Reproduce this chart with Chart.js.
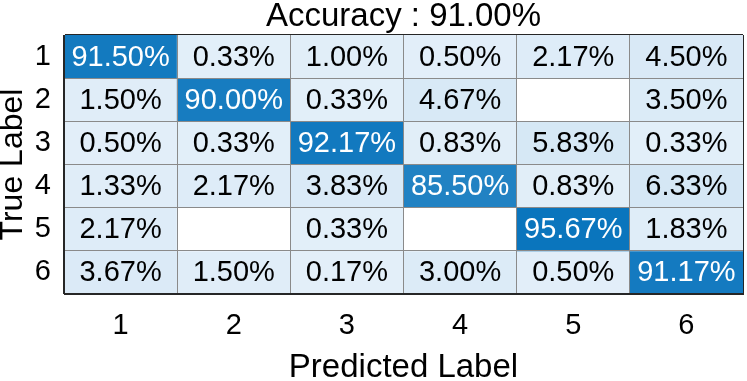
<!DOCTYPE html>
<html>
<head>
<meta charset="utf-8">
<script src="https://cdn.jsdelivr.net/npm/chart.js@4"></script>
<style>
  html, body { margin: 0; padding: 0; background: #fff; }
  #wrap { width: 747px; height: 381px; }
</style>
</head>
<body>
<div id="wrap"><canvas id="cm"></canvas></div>
<script>
// ----- Données -----
const predLabels = ['1', '2', '3', '4', '5', '6'];
const trueLabels = ['1', '2', '3', '4', '5', '6'];
const row1 = [91.50, 0.33, 1.00, 0.50, 2.17, 4.50];
const row2 = [1.50, 90.00, 0.33, 4.67, 0, 3.50];
const row3 = [0.50, 0.33, 92.17, 0.83, 5.83, 0.33];
const row4 = [1.33, 2.17, 3.83, 85.50, 0.83, 6.33];
const row5 = [2.17, 0, 0.33, 0, 95.67, 1.83];
const row6 = [3.67, 1.50, 0.17, 3.00, 0.50, 91.17];
const rows = [row1, row2, row3, row4, row5, row6];
const accuracy = '91.00%';

// couleur : blanc pour 0, sinon bleu clair -> bleu foncé
const lo = [227, 239, 249], hi = [0, 111, 186];
const cellColor = v => {
  if (!v) return '#ffffff';
  const t = v / 100;
  const c = lo.map((a, k) => Math.round(a + (hi[k] - a) * t));
  return `rgb(${c[0]},${c[1]},${c[2]})`;
};

Chart.defaults.font.family = "'Liberation Sans', Arial, sans-serif";
Chart.defaults.color = '#000';

const datasets = rows.map((r, i) => ({
  label: trueLabels[i],
  data: r.map(() => [i + 0.5, i + 1.5]),
  backgroundColor: r.map(cellColor),
  borderWidth: 0,
  grouped: false,
  barPercentage: 1,
  categoryPercentage: 1
}));

// texte des cellules
const cellText = {
  id: 'cellText',
  afterDatasetsDraw(chart) {
    const { ctx, scales: { x, y } } = chart;
    ctx.save();
    ctx.font = "29px 'Liberation Sans', Arial, sans-serif";
    ctx.textAlign = 'center';
    ctx.textBaseline = 'middle';
    rows.forEach((r, i) => {
      r.forEach((v, j) => {
        if (!v) return;
        ctx.fillStyle = v > 50 ? '#fff' : '#000';
        ctx.fillText(v.toFixed(2) + '%', x.getPixelForValue(j), y.getPixelForValue(i + 1) + 1);
      });
    });
    ctx.restore();
  }
};

const dark = '#262626', gray = '#8a8a8a';
const lineColor = c => (c.index === undefined || c.index === 0) ? dark : gray;

new Chart(document.getElementById('cm'), {
  type: 'bar',
  data: { labels: predLabels, datasets },
  options: {
    responsive: true,
    maintainAspectRatio: false,
    animation: false,
    layout: { padding: { right: 4, top: 0, left: 0, bottom: 0 } },
    plugins: {
      legend: { display: false },
      tooltip: { enabled: false },
      title: {
        display: true,
        fullSize: false,
        text: 'Accuracy : ' + accuracy,
        color: '#000',
        font: { size: 33, weight: 'normal', lineHeight: 1 },
        padding: { top: 0, bottom: 2 }
      }
    },
    scales: {
      x: {
        grid: { offset: true, color: lineColor, drawTicks: false, z: 1 },
        border: { color: dark, z: 2 },
        ticks: { font: { size: 29 }, padding: 15 },
        title: { display: true, text: 'Predicted Label', font: { size: 33, lineHeight: 0.82 }, padding: 0 },
        afterFit: a => { a.height = 87; }
      },
      y: {
        type: 'linear',
        reverse: true,
        min: 0.5,
        max: 6.5,
        afterBuildTicks: a => { a.ticks = trueLabels.map((l, i) => ({ value: i + 1 })); },
        grid: { offset: true, color: lineColor, drawTicks: false, z: 1 },
        border: { color: dark, z: 2 },
        ticks: { font: { size: 29 }, padding: 13, callback: v => trueLabels[v - 1] },
        title: { display: true, text: 'True Label', font: { size: 32, lineHeight: 0.85 }, padding: 0 },
        afterFit: a => { a.width = 64; }
      }
    }
  },
  plugins: [cellText]
});
</script>
</body>
</html>
